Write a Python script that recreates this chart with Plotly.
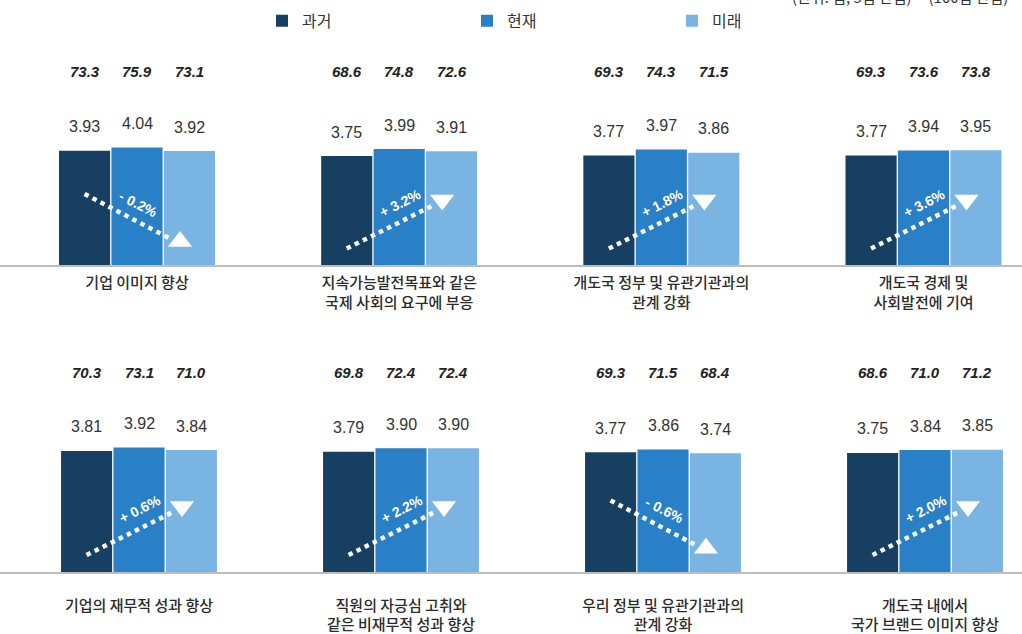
import plotly.graph_objects as go

W, H = 1022, 634

# ---------------- data ----------------
labels_top = ["기업 이미지 향상",
              "지속가능발전목표와 같은<br>국제 사회의 요구에 부응",
              "개도국 정부 및 유관기관과의<br>관계 강화",
              "개도국 경제 및<br>사회발전에 기여"]
labels_bottom = ["기업의 재무적 성과 향상",
                 "직원의 자긍심 고취와<br>같은 비재무적 성과 향상",
                 "우리 정부 및 유관기관과의<br>관계 강화",
                 "개도국 내에서<br>국가 브랜드 이미지 향상"]
series_names = ["과거", "현재", "미래"]
past = [3.93, 3.75, 3.77, 3.77, 3.81, 3.79, 3.77, 3.75]
present = [4.04, 3.99, 3.97, 3.94, 3.92, 3.90, 3.86, 3.84]
future = [3.92, 3.91, 3.86, 3.95, 3.84, 3.90, 3.74, 3.85]
past100 = [73.3, 68.6, 69.3, 69.3, 70.3, 69.8, 69.3, 68.6]
present100 = [75.9, 74.8, 74.3, 73.6, 73.1, 72.4, 71.5, 71.0]
future100 = [73.1, 72.6, 71.5, 73.8, 71.0, 72.4, 68.4, 71.2]
change = [-0.2, 3.2, 1.8, 3.6, 0.6, 2.2, -0.6, 2.0]

# ---------------- style ----------------
colors = ["#173f62", "#2a80c6", "#7ab4e3"]
KFONT = "Noto Sans CJK KR, Noto Sans, sans-serif"
NFONT = "Liberation Sans, Arial, sans-serif"
SLOT = 0.2      # x-units per bar slot (one panel = 1 unit)
BARW = 0.195

rows = [
    dict(base_px=267.5, scale=29.4, centers=(137.0, 923.5), ax="x", ay="y",
         top100_px=72, labels=labels_top, standoff=3, idx=range(0, 4)),
    dict(base_px=576.5, scale=32.0, centers=(139.0, 925.0), ax="x2", ay="y2",
         top100_px=375, labels=labels_bottom, standoff=19, idx=range(4, 8)),
]

fig = go.Figure()
annotations = []
series_vals = [past, present, future]
series_100 = [past100, present100, future100]

for r, row in enumerate(rows):
    idx = list(row["idx"])
    panels = list(range(len(idx)))
    for k in range(3):
        xs = [p + (k - 1) * SLOT for p in panels]
        ys = [series_vals[k][i] for i in idx]
        fig.add_trace(go.Bar(
            x=xs, y=ys, width=BARW, name=series_names[k],
            marker=dict(color=colors[k], line=dict(width=0)),
            xaxis=row["ax"], yaxis=row["ay"],
            showlegend=(r == 0), legendgroup=series_names[k],
            hoverinfo="skip"))
        for x, y, i in zip(xs, ys, idx):
            annotations.append(dict(
                x=x, y=y, xref=row["ax"], yref=row["ay"], text=f"{y:.2f}",
                showarrow=False, yshift=24, yanchor="middle",
                font=dict(family=NFONT, size=16, color="#333333")))
            annotations.append(dict(
                x=x, y=1 - row["top100_px"] / H, xref=row["ax"], yref="paper",
                text=f"<b><i>{series_100[k][i]:.1f}</i></b>",
                showarrow=False, yanchor="middle",
                font=dict(family=NFONT, size=15, color="#222222")))

    # trend arrows (pixel offsets above baseline converted to data units)
    sc = row["scale"]
    for p, i in zip(panels, idx):
        c = change[i]
        x0 = p - SLOT
        x1 = p - SLOT + 1.63 * SLOT
        xt = p - SLOT + 1.82 * SLOT
        xl = p - SLOT + 1.02 * SLOT
        if c >= 0:
            y0, y1, yt, yl = 17 / sc, 60 / sc, 66 / sc, 63 / sc
            sym, ang, txt = "triangle-down", -27, f"+ {abs(c):.1f}%"
        else:
            y0, y1, yt, yl = 72 / sc, 27 / sc, 24 / sc, 62 / sc
            sym, ang, txt = "triangle-up", 27, f"- {abs(c):.1f}%"
        fig.add_trace(go.Scatter(
            x=[x0, x1], y=[y0, y1], mode="lines",
            line=dict(color="white", width=4.5, dash="dot"),
            xaxis=row["ax"], yaxis=row["ay"], showlegend=False, hoverinfo="skip"))
        fig.add_trace(go.Scatter(
            x=[xt], y=[yt], mode="markers",
            marker=dict(symbol=sym, size=21, color="white", line=dict(width=0)),
            xaxis=row["ax"], yaxis=row["ay"], showlegend=False, hoverinfo="skip"))
        annotations.append(dict(
            x=xl, y=yl, xref=row["ax"], yref=row["ay"], text=f"<b>{txt}</b>",
            textangle=ang, showarrow=False,
            font=dict(family=NFONT, size=14, color="white")))

# cut-off unit note at the very top
annotations.append(dict(
    x=1010 / W, y=1 - 9 / H, xref="paper", yref="paper", xanchor="right", yanchor="bottom",
    text="(단위: 점, 5점 만점)     (100점 만점)", showarrow=False,
    font=dict(family=KFONT, size=15, color="#333333")))

def xaxis_cfg(row):
    c0, c3 = row["centers"]
    step = (c3 - c0) / 3
    return dict(
        domain=[0, 1], range=[-c0 / step, 3 + (W - c3) / step],
        tickvals=[0, 1, 2, 3], ticktext=row["labels"], ticks="",
        ticklabelstandoff=row["standoff"],
        tickfont=dict(family=KFONT, size=15, color="#2b2b2b", weight=500),
        showline=True, linecolor="#bdbdbd", linewidth=1.5,
        showgrid=False, zeroline=False, fixedrange=True,
        anchor=row["ay"])

def yaxis_cfg(row, top_px):
    base = row["base_px"]
    return dict(
        domain=[1 - base / H, 1 - top_px / H],
        range=[0, (base - top_px) / row["scale"]],
        visible=False, showgrid=False, zeroline=False, fixedrange=True,
        anchor=row["ax"])

fig.update_layout(
    width=W, height=H,
    margin=dict(l=0, r=0, t=0, b=0),
    paper_bgcolor="white", plot_bgcolor="rgba(0,0,0,0)",
    barmode="overlay",
    xaxis=xaxis_cfg(rows[0]), yaxis=yaxis_cfg(rows[0], 0),
    xaxis2=xaxis_cfg(rows[1]), yaxis2=yaxis_cfg(rows[1], 355),
    legend=dict(orientation="h", x=262 / W, y=1 - 21 / H, xanchor="left", yanchor="middle",
                entrywidth=160, entrywidthmode="pixels", itemwidth=30,
                font=dict(family=KFONT, size=16, color="#333333"),
                bgcolor="rgba(0,0,0,0)"),
    annotations=annotations,
    showlegend=True,
)

fig.write_html("out.html")
